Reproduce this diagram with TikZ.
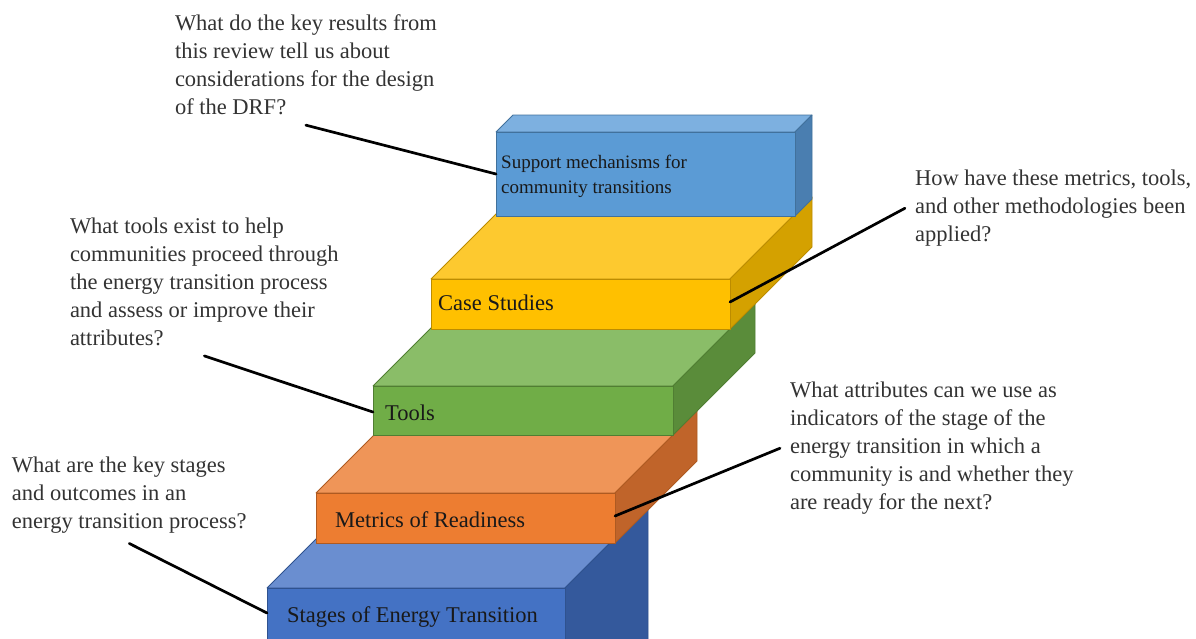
\documentclass[tikz,border=0pt]{standalone}
\usepackage{fontspec}
\setmainfont{Liberation Serif}
\definecolor{stgfront}{HTML}{4472C4}
\definecolor{stgtop}{HTML}{6A8ED0}
\definecolor{stgside}{HTML}{34599C}
\definecolor{stgline}{HTML}{2F528F}
\definecolor{metfront}{HTML}{ED7D31}
\definecolor{mettop}{HTML}{EF9558}
\definecolor{metside}{HTML}{C0642A}
\definecolor{metline}{HTML}{AE5A21}
\definecolor{toolfront}{HTML}{70AD47}
\definecolor{tooltop}{HTML}{8ABD68}
\definecolor{toolside}{HTML}{5A8C3A}
\definecolor{toolline}{HTML}{507E32}
\definecolor{casefront}{HTML}{FFC000}
\definecolor{casetop}{HTML}{FDC92F}
\definecolor{caseside}{HTML}{D4A100}
\definecolor{caseline}{HTML}{BC8C00}
\definecolor{supfront}{HTML}{5B9BD5}
\definecolor{suptop}{HTML}{7DB0E0}
\definecolor{supside}{HTML}{4A7EB0}
\definecolor{supline}{HTML}{41719C}

\begin{document}
\begin{tikzpicture}[x=1pt,y=-1pt,
    question/.style={font=\fontsize{22.5}{28}\selectfont,align=left,
        anchor=north west,inner sep=0pt,outer sep=10pt,text=black!80},
    steplabel/.style={font=\fontsize{22.5}{27}\selectfont,anchor=base west,
        inner sep=0pt,text=black!90},
    face/.style={line width=0.8pt,line join=round},
    leader/.style={line width=2.7pt,line cap=round}]
\useasboundingbox (0,0) rectangle (1196,638);
\clip (0,0) rectangle (1196,638);

% bottom step
\filldraw[face,draw=stgline,fill=stgtop] (267,588) -- (350,505) -- (648,505) -- (565,588) -- cycle;
\filldraw[face,draw=stgline,fill=stgside] (565,588) -- (648,505) -- (648,690) -- (565,690) -- cycle;
\filldraw[face,draw=stgline,fill=stgfront] (267,588) rectangle (565,690);
\node[steplabel] (s1) at (287,622) {Stages of Energy Transition};
\coordinate (c1) at (267,613);

\filldraw[face,draw=metline,fill=mettop] (316,493) -- (398,411) -- (697,411) -- (615,493) -- cycle;
\filldraw[face,draw=metline,fill=metside] (615,493) -- (697,411) -- (697,461) -- (615,543) -- cycle;
\filldraw[face,draw=metline,fill=metfront] (316,493) rectangle (615,543);
\node[steplabel] (s2) at (335,527) {Metrics of Readiness};
\coordinate (c2) at (615,516);

\filldraw[face,draw=toolline,fill=tooltop] (373,386) -- (455,304) -- (755,304) -- (673,386) -- cycle;
\filldraw[face,draw=toolline,fill=toolside] (673,386) -- (755,304) -- (755,353) -- (673,435) -- cycle;
\filldraw[face,draw=toolline,fill=toolfront] (373,386) rectangle (673,435);
\node[steplabel] (s3) at (385,420) {Tools};
\coordinate (c3) at (373,412);

\filldraw[face,draw=caseline,fill=casetop] (431,279) -- (513,197) -- (812,197) -- (730,279) -- cycle;
\filldraw[face,draw=caseline,fill=caseside] (730,279) -- (812,197) -- (812,247) -- (730,329) -- cycle;
\filldraw[face,draw=caseline,fill=casefront] (431,279) rectangle (730,329);
\node[steplabel] (s4) at (438,310) {Case Studies};
\coordinate (c4) at (730,302);

% top step
\filldraw[face,draw=supline,fill=suptop] (496,132) -- (513,115) -- (812,115) -- (795,132) -- cycle;
\filldraw[face,draw=supline,fill=supside] (795,132) -- (812,115) -- (812,199) -- (795,216) -- cycle;
\filldraw[face,draw=supline,fill=supfront] (496,132) rectangle (795,216);
\node[steplabel,anchor=north west,align=left,font=\fontsize{19}{25}\selectfont] (s5) at (501,155)
    {Support mechanisms for\\community transitions};
\coordinate (c5) at (496,174);

\node[question] (q1) at (165,5) {What do the key results from\\this review tell us about\\considerations for the design\\of the DRF?};
\node[question] (q2) at (905,160) {How have these metrics, tools,\\and other methodologies been\\applied?};
\node[question] (q3) at (60,208) {What tools exist to help\\communities proceed through\\the energy transition process\\and assess or improve their\\attributes?};
\node[question] (q4) at (780,372) {What attributes can we use as\\indicators of the stage of the\\energy transition in which a\\community is and whether they\\are ready for the next?};
\node[question] (q5) at (2,447) {What are the key stages\\and outcomes in an\\energy transition process?};

\draw[leader] (q1.south) -- (c5);
\draw[leader] (q2.west) -- (c4);
\draw[leader] (q3.south) -- (c3);
\draw[leader] (q4.west) -- (c2);
\draw[leader] (q5.south) -- (c1);
\end{tikzpicture}
\end{document}
